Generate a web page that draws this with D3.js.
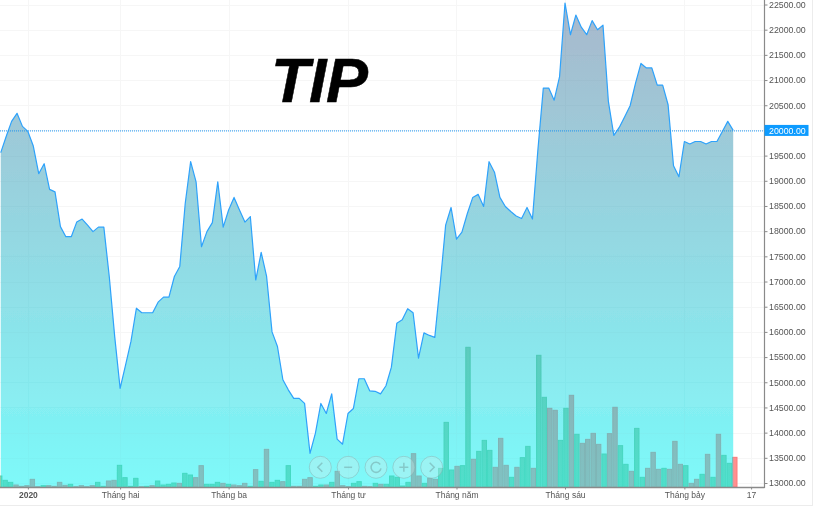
<!DOCTYPE html>
<html><head><meta charset="utf-8">
<script src="https://cdn.jsdelivr.net/npm/d3@7"></script>
<style>
html,body{margin:0;padding:0;background:#fff;overflow:hidden}
svg{display:block}
text{font-family:"Liberation Sans",Arial,sans-serif}
</style></head><body>
<svg id="c" width="813" height="506"></svg>
<script>
const title = "TIP";
const lastPrice = 20000;
const priceTicks = [13000,13500,14000,14500,15000,15500,16000,16500,17000,17500,18000,18500,19000,19500,20000,20500,21000,21500,22000,22500];
const timeTickIndex = [5,22,42,64,84,104,126,138.3];
const timeTickLabels = ["2020","Tháng hai","Tháng ba","Tháng tư","Tháng năm","Tháng sáu","Tháng bảy","17"];
const closePrice = [19560,19880,20180,20340,20080,19980,19690,19140,19340,18830,18780,18090,17890,17890,18180,18240,18120,17990,18080,18080,
17100,15910,14880,15340,15810,16470,16380,16380,16380,16590,16690,16690,17100,17300,18550,19380,18980,17690,17990,18170,
18980,18080,18420,18670,18420,18180,18290,17030,17580,17100,16000,15710,15050,14850,14680,14680,14580,13590,13990,14580,
14380,14770,13870,13770,14380,14480,15070,15070,14830,14820,14770,14930,15300,16170,16240,16460,16380,15480,15980,15930,
15890,16960,18120,18470,17840,17980,18350,18670,18730,18490,19380,19170,18670,18490,18390,18300,18250,18470,18240,19610,
20840,20840,20600,21070,22530,21900,22290,22050,21900,22180,22000,22090,20570,19900,20060,20270,20490,20940,21330,21240,
21240,20900,20900,20510,19300,19080,19780,19730,19780,19780,19730,19780,19780,19980,20180,20000];
const volume = [33,20,14,6,2,4,23,1,4,4,2,14,5,8,1,4,1,4,14,2,18,20,65,28,2,26,1,2,4,18,6,8,12,11,41,36,28,64,8,8,14,11,8,6,4,11,2,52,17,113,
14,20,16,64,2,2,23,28,2,6,6,14,47,4,1,11,16,2,1,11,8,8,33,29,3,14,100,33,11,26,23,56,194,51,62,64,419,83,107,140,110,59,146,65,29,59,88,122,56,395,
269,236,230,140,236,275,158,131,143,161,128,99,160,239,124,68,47,176,29,56,104,53,56,53,137,68,64,11,23,38,98,29,158,95,71,89];
const upBars = [0,1,2,8,13,18,19,22,23,24,25,27,29,30,31,32,34,35,38,39,40,42,46,48,50,51,53,58,59,61,65,66,69,71,72,73,74,75,78,81,82,83,85,86,88,89,90,94,96,97,99,100,103,104,106,111,114,115,117,118,122,126,129,131,133,134];
const navButtons = ["prev","minus","reset","plus","next"];

const svg = d3.select("#c");
const xLine = d3.scaleLinear().domain([0,135]).range([0.75,733.2]);
const xBar = d3.scaleLinear().domain([0,135]).range([-0.3,734.8]);
const y = d3.scaleLinear().domain([13000,22500]).range([483,4.5]);
const yVol = d3.scaleLinear().domain([0,419]).range([487,347.3]);
const plotRight = 764.5, base = 487.5;

const defs = svg.append("defs");
defs.append("filter").attr("id","soft").attr("filterUnits","userSpaceOnUse")
  .attr("x",0).attr("y",0).attr("width",813).attr("height",506)
  .append("feGaussianBlur").attr("stdDeviation",0.4);
const grad = defs.append("linearGradient").attr("id","ag").attr("gradientUnits","userSpaceOnUse")
  .attr("x1",0).attr("x2",0).attr("y1",0).attr("y2",487);
grad.append("stop").attr("offset",0).attr("stop-color","rgb(83,113,153)").attr("stop-opacity",.5);
grad.append("stop").attr("offset",1).attr("stop-color","rgb(0,245,245)").attr("stop-opacity",.5);

const root = svg.append("g").attr("filter","url(#soft)");

// page edges
root.append("rect").attr("x",0).attr("y",505).attr("width",813).attr("height",1).attr("fill","#ececec");
root.append("rect").attr("x",812).attr("y",0).attr("width",1).attr("height",506).attr("fill","#ececec");

// grid
const grid = root.append("g").attr("stroke","#f6f6f6").attr("stroke-width",1).attr("shape-rendering","crispEdges");
grid.selectAll("line.h").data(priceTicks).join("line").attr("class","h").attr("x1",0).attr("x2",plotRight)
  .attr("y1",d=>Math.round(y(d))+.5).attr("y2",d=>Math.round(y(d))+.5);
grid.selectAll("line.v").data(timeTickIndex).join("line").attr("class","v").attr("y1",0).attr("y2",base)
  .attr("x1",d=>Math.round(xLine(d))+.5).attr("x2",d=>Math.round(xLine(d))+.5);

// volume
const upSet = new Set(upBars);
root.append("g").selectAll("rect").data(volume).join("rect")
  .attr("x",(d,i)=>xBar(i)-2.2).attr("width",4.4)
  .attr("y",d=>yVol(d)).attr("height",d=>yVol(0)-yVol(d))
  .attr("fill",(d,i)=>upSet.has(i)?"#a0c8a0":"#ff8f8f")
  .attr("stroke",(d,i)=>upSet.has(i)?"#86c090":"#fb7a7a").attr("stroke-width",1);

// area
root.append("path").datum(closePrice)
  .attr("d",d3.area().x((d,i)=>xLine(i)).y0(base-.5).y1(d=>y(d)))
  .attr("fill","url(#ag)");
root.append("path").datum(closePrice)
  .attr("d",d3.line().x((d,i)=>xLine(i)).y(d=>y(d)))
  .attr("fill","none").attr("stroke","#2ea2fb").attr("stroke-width",1.2).attr("stroke-linejoin","round");

// last price line
root.append("line").attr("x1",0).attr("x2",plotRight).attr("y1",y(lastPrice)+.5).attr("y2",y(lastPrice)+.5)
  .attr("stroke","#2196f3").attr("stroke-width",1).attr("stroke-dasharray","1 1");

// price axis
const yAxis = d3.axisRight(y).tickValues(priceTicks).tickFormat(d3.format(".2f")).tickSize(3).tickPadding(1.5);
const gy = root.append("g").attr("transform",`translate(${plotRight},0)`).call(yAxis);
gy.select(".domain").remove();
gy.selectAll("line").attr("stroke","#8a8a8a");
gy.selectAll("text").attr("fill","#555").attr("font-size",8.8).style("font-family",'"Liberation Sans",Arial,sans-serif');
root.append("line").attr("x1",plotRight).attr("x2",plotRight).attr("y1",0).attr("y2",base+.5).attr("stroke","#8a8a8a").attr("stroke-width",1.2);

// time axis
const xAxis = d3.axisBottom(xLine).tickValues(timeTickIndex).tickFormat((d,i)=>timeTickLabels[i]).tickSize(2).tickPadding(2);
const gx = root.append("g").attr("transform",`translate(0,${base})`).call(xAxis);
gx.select(".domain").remove();
gx.selectAll("line").attr("stroke","#8a8a8a");
gx.selectAll("text").attr("fill","#555").attr("font-size",8.5).style("font-family",'"Liberation Sans",Arial,sans-serif')
  .attr("font-weight",(d,i)=>i===0?"bold":"normal");
root.append("line").attr("x1",0).attr("x2",plotRight).attr("y1",base).attr("y2",base).attr("stroke","#8a8a8a").attr("stroke-width",1.4);

// last price label
const lab = root.append("g");
lab.append("rect").attr("x",plotRight).attr("y",y(lastPrice)-5.5).attr("width",44).attr("height",11).attr("fill","#0a9bff");
lab.append("text").attr("x",plotRight+4.5).attr("y",y(lastPrice)+3.3).attr("fill","#fff").attr("font-size",8.8).text(d3.format(".2f")(lastPrice));

// navigation buttons
const btnX = d3.scalePoint().domain(navButtons).range([320.3,431.7]);
const icons = {
  prev:"M2,-4.5L-2.5,0L2,4.5",
  next:"M-2,-4.5L2.5,0L-2,4.5",
  minus:"M-4,0H4",
  plus:"M-4.5,0H4.5M0,-4.5V4.5",
  reset:"M4.2,-2.8A5,5 0 1 0 5,1"
};
const btn = root.append("g").selectAll("g").data(navButtons).join("g").attr("transform",d=>`translate(${btnX(d)},467.3)`);
btn.append("circle").attr("r",11).attr("fill","rgba(220,235,235,.3)").attr("stroke","rgba(130,170,170,.45)").attr("stroke-width",1);
btn.append("path").attr("d",d=>icons[d]).attr("fill","none").attr("stroke","rgba(110,160,160,.5)").attr("stroke-width",1.5);

// title
svg.append("text").attr("x",271).attr("y",102).attr("font-size",63).attr("font-weight","bold").attr("font-style","italic")
  .attr("letter-spacing",-0.5).attr("fill","#000").attr("stroke","#000").attr("stroke-width",0.5).text(title);
</script>
</body></html>
